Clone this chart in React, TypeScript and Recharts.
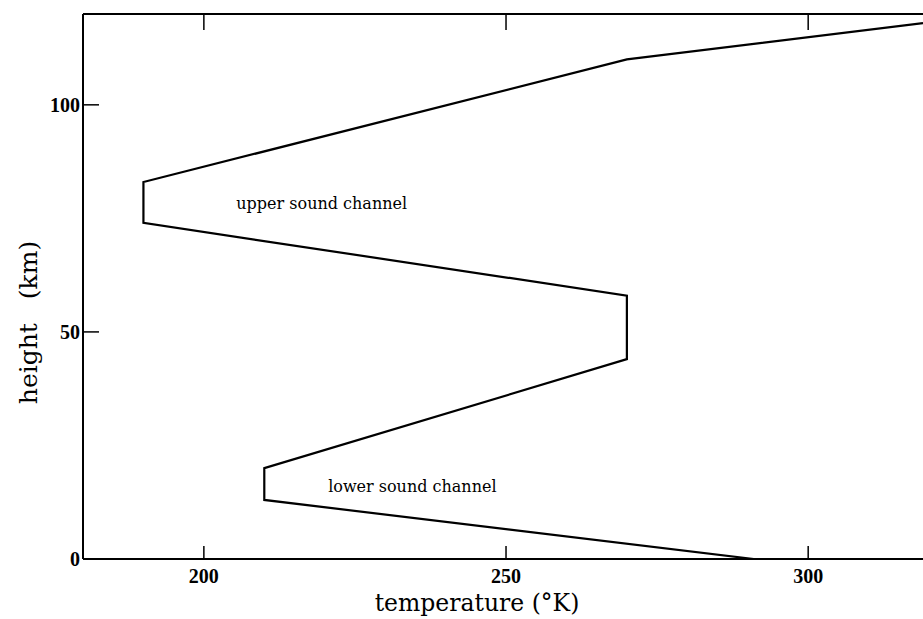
import React from 'react';
import { LineChart, Line, XAxis, YAxis, ReferenceDot, Label } from 'recharts';

// Temperature profile of the atmosphere (height vs temperature)
const temperatures = [291, 210, 210, 270, 270, 190, 190, 270, 319];
const heights = [0, 13, 20, 44, 58, 74, 83, 110, 118];

const xTicks = [200, 250, 300];
const yTicks = [0, 50, 100];
const rightTicks = [50, 100];

const channelNames = ['upper sound channel', 'lower sound channel'];
const channelTemps = [219.5, 234.5];
const channelHeights = [78.4, 15.9];

const data = temperatures.map((t, i) => ({ temp: t, height: heights[i] }));

const SERIF = '"DejaVu Serif", "Liberation Serif", serif';
const DIGITS = '"Liberation Serif", serif';

const empty = () => '';

export default function App() {
  return (
    <div style={{ position: 'absolute', left: 0, top: 0, width: 923, height: 619, background: '#fff' }}>
      <LineChart width={923} height={619} data={data} margin={{ top: 0, right: 0, bottom: 0, left: 0 }}>
        <XAxis
          dataKey="temp"
          type="number"
          domain={[180, 319]}
          ticks={xTicks}
          allowDataOverflow
          height={60}
          axisLine={{ stroke: '#000', strokeWidth: 2 }}
          tickLine={{ stroke: '#000', strokeWidth: 1.5 }}
          tickSize={-13}
          tickMargin={23}
          tick={{ fill: '#000', fontFamily: DIGITS, fontWeight: 'bold', fontSize: 20 }}
        >
          <Label
            content={(props: any) => {
              const vb = props.viewBox || {};
              return (
                <text
                  x={vb.x + vb.width / 2 - 26}
                  y={vb.y + 52}
                  textAnchor="middle"
                  fontFamily={SERIF}
                  fontSize={23.5}
                  fill="#000"
                >
                  temperature (°K)
                </text>
              );
            }}
          />
        </XAxis>
        <XAxis
          xAxisId="top"
          dataKey="temp"
          type="number"
          orientation="top"
          domain={[180, 319]}
          ticks={xTicks}
          allowDataOverflow
          height={14}
          axisLine={{ stroke: '#000', strokeWidth: 2 }}
          tickLine={{ stroke: '#000', strokeWidth: 1.5 }}
          tickSize={-16}
          tickFormatter={empty}
        />
        <YAxis
          type="number"
          domain={[0, 120]}
          ticks={yTicks}
          allowDataOverflow
          width={83}
          axisLine={{ stroke: '#000', strokeWidth: 2 }}
          tickLine={{ stroke: '#000', strokeWidth: 1.5 }}
          tickSize={-16}
          tickMargin={19}
          tick={{ fill: '#000', fontFamily: DIGITS, fontWeight: 'bold', fontSize: 20 }}
        >
          <Label
            content={(props: any) => {
              const vb = props.viewBox || {};
              const cx = 28;
              const cy = vb.y + vb.height / 2 + 36;
              return (
                <text
                  x={cx}
                  y={cy}
                  transform={`rotate(-90, ${cx}, ${cy})`}
                  textAnchor="middle"
                  dominantBaseline="central"
                  fontFamily={SERIF}
                  fontSize={25}
                  fill="#000"
                  style={{ wordSpacing: '16px' }}
                >
                  height (km)
                </text>
              );
            }}
          />
        </YAxis>
        <YAxis
          yAxisId="right"
          type="number"
          orientation="right"
          domain={[0, 120]}
          ticks={rightTicks}
          width={0}
          axisLine={false}
          tickLine={{ stroke: '#000', strokeWidth: 1.5 }}
          tickSize={-8}
          tickFormatter={empty}
        />
        <Line
          type="linear"
          dataKey="height"
          stroke="#000"
          strokeWidth={2.2}
          dot={false}
          isAnimationActive={false}
        />
        {channelNames.map((name, i) => (
          <ReferenceDot
            key={name}
            x={channelTemps[i]}
            y={channelHeights[i]}
            r={0}
            fill="none"
            stroke="none"
            label={{
              value: name,
              position: 'center',
              fill: '#000',
              fontFamily: SERIF,
              fontSize: 16,
            }}
          />
        ))}
      </LineChart>
    </div>
  );
}
